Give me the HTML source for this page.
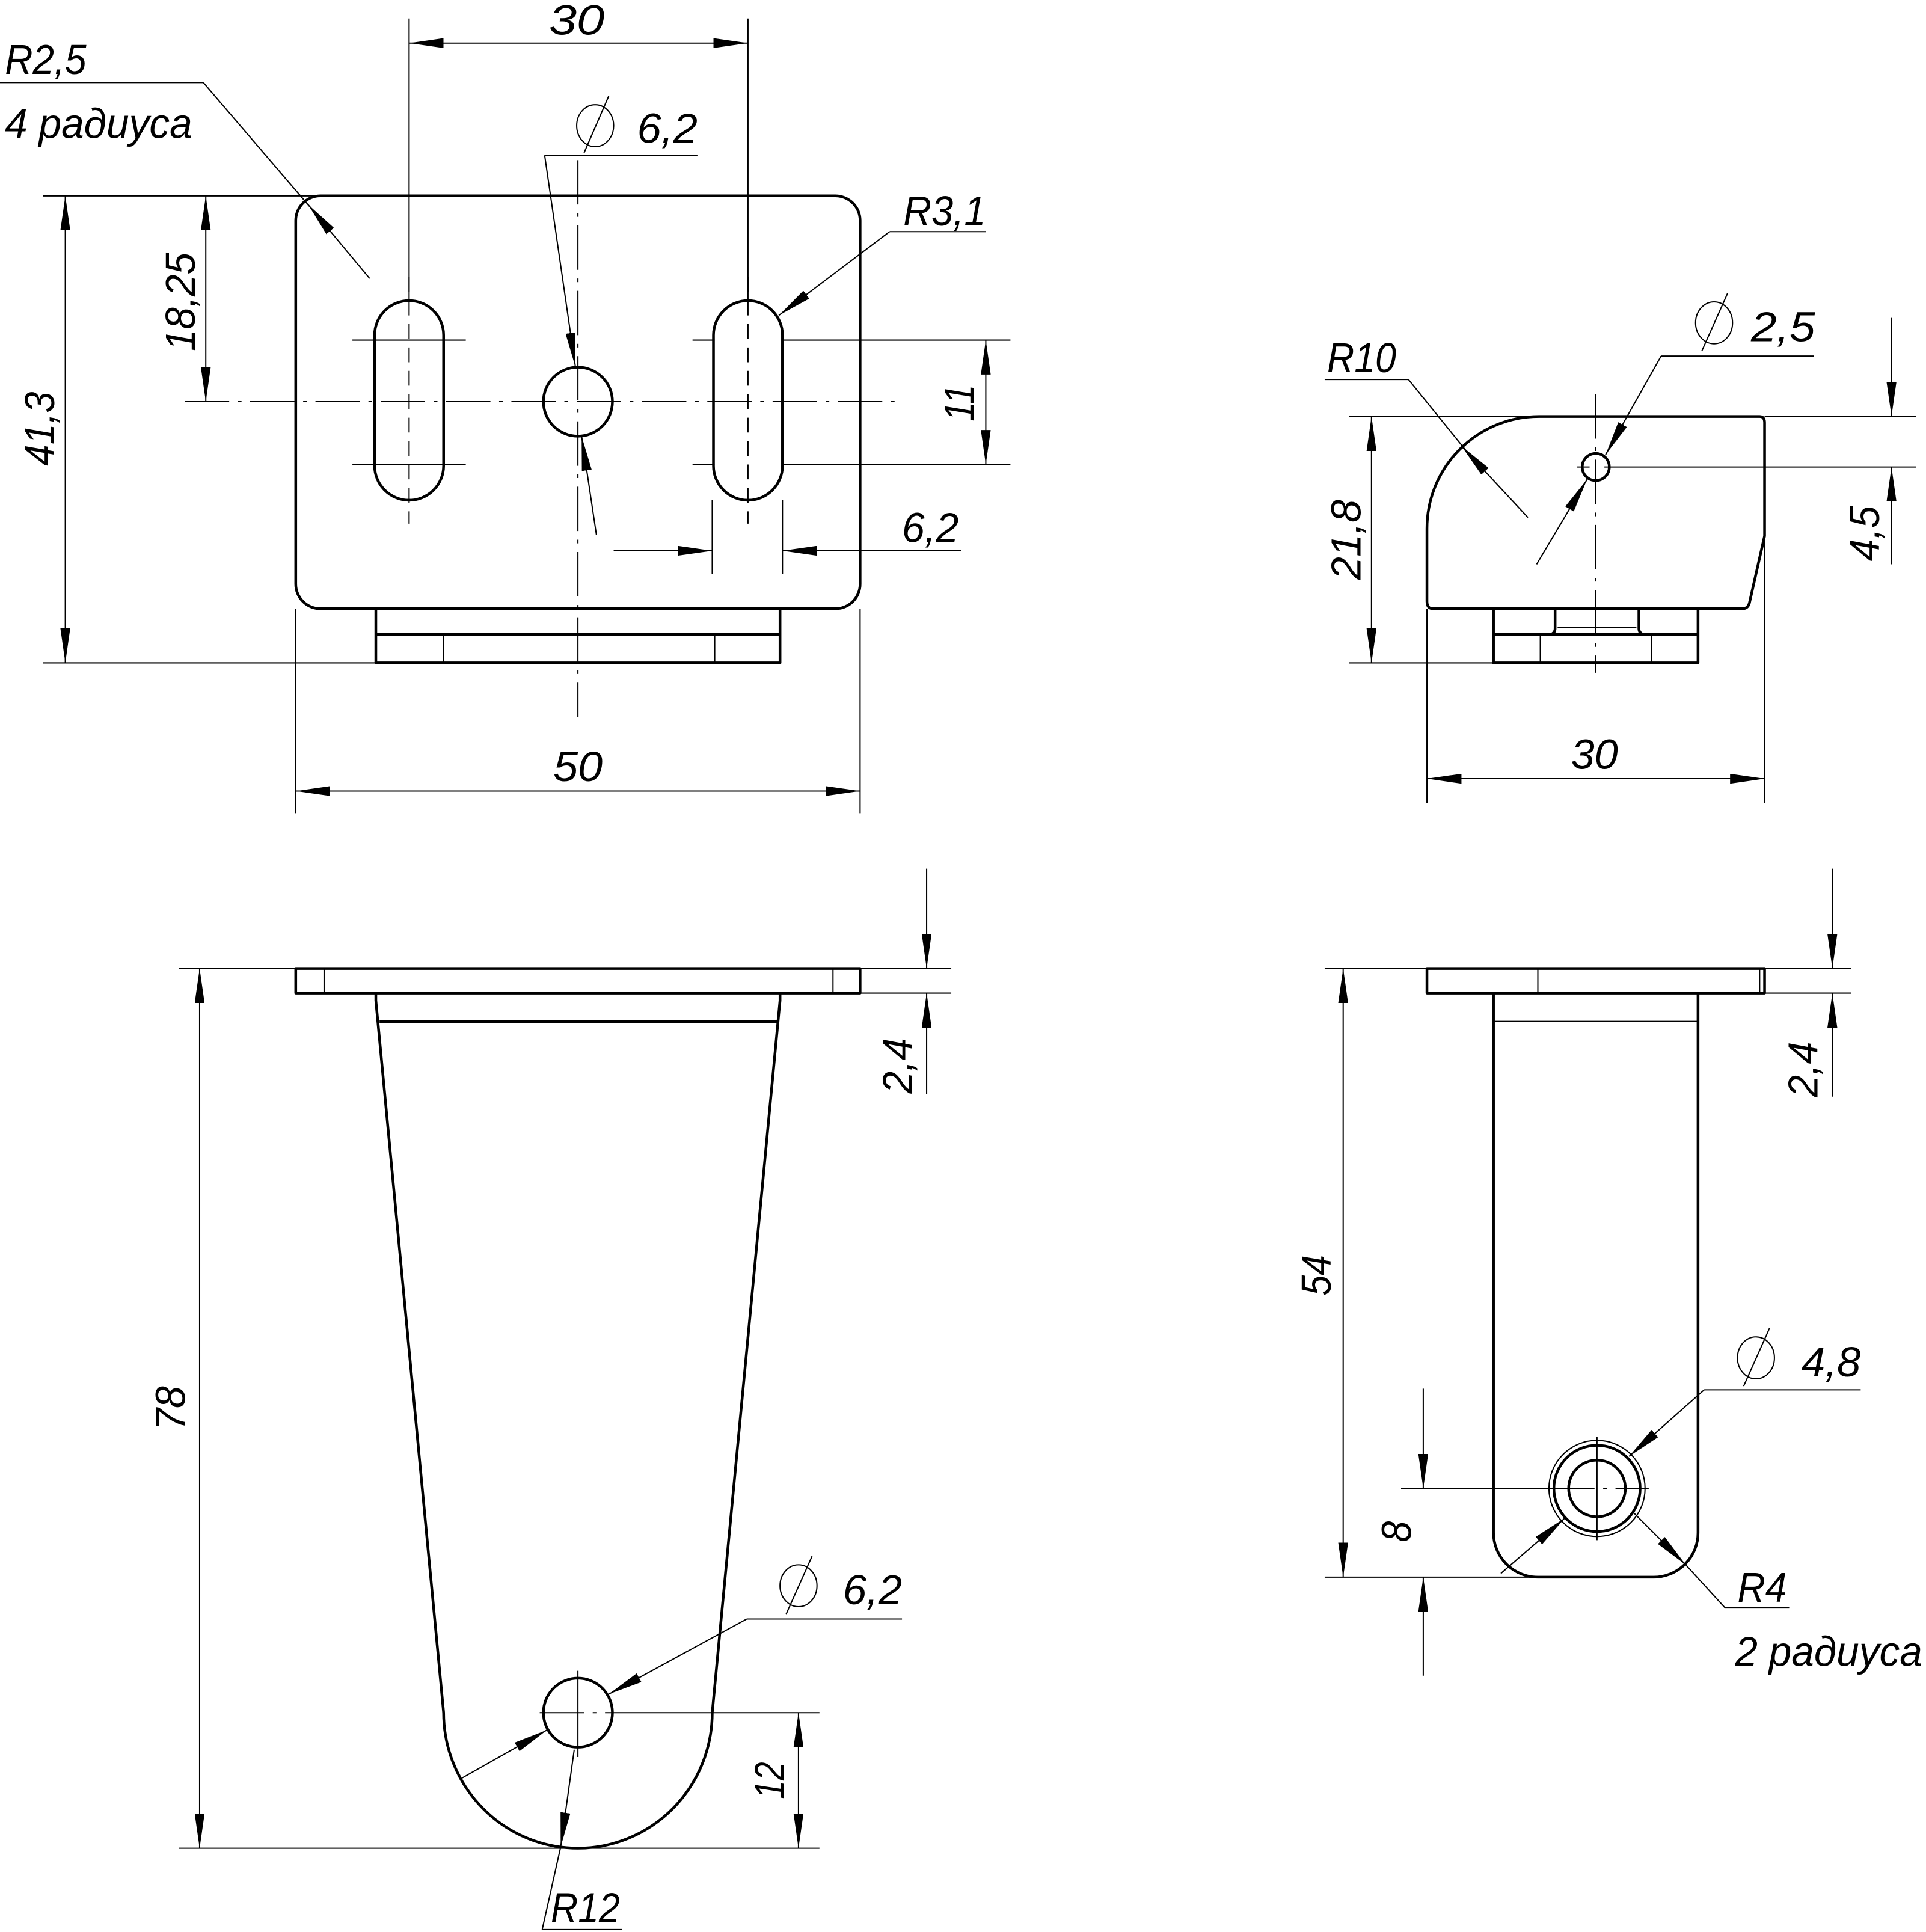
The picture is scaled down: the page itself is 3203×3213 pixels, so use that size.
<!DOCTYPE html>
<html><head><meta charset="utf-8">
<style>
html,body{margin:0;padding:0;background:#fff;}
svg{display:block;}
.k{stroke:#000;stroke-width:2.2;fill:none;stroke-linejoin:round;}
.n{stroke:#000;stroke-width:1;fill:none;}
.c{stroke:#000;stroke-width:1;fill:none;stroke-dasharray:36 7 3 7;}
.d{stroke:#000;stroke-width:1;fill:none;stroke-dasharray:12 7;}
text{font-family:"Liberation Sans",sans-serif;font-style:italic;font-size:34px;fill:#000;}
</style></head><body>
<svg width="3203" height="3213" viewBox="0 0 1563 1568" preserveAspectRatio="none" xmlns="http://www.w3.org/2000/svg">
<defs>
<marker id="a" viewBox="0 0 28 8" refX="28" refY="4" markerWidth="28" markerHeight="8" markerUnits="userSpaceOnUse" orient="auto-start-reverse">
<path d="M0,0 L28,4 L0,8 z" fill="#000"/></marker>
</defs>

<!-- ========== TOP LEFT VIEW ========== -->
<rect class="k" x="240" y="159" width="458" height="335" rx="20"/>
<path class="k" d="M305,494 V538 H633 V494"/>
<line class="k" x1="305" y1="515" x2="633" y2="515"/>
<line class="n" x1="360" y1="515" x2="360" y2="538"/>
<line class="n" x1="580" y1="515" x2="580" y2="538"/>
<rect class="k" x="304" y="244" width="56" height="162" rx="28"/>
<rect class="k" x="579" y="244" width="56" height="162" rx="28"/>
<circle class="k" cx="469" cy="326" r="28"/>
<line class="c" x1="150" y1="326" x2="730" y2="326"/>
<line class="c" x1="469" y1="130" x2="469" y2="582"/>
<line class="d" x1="332" y1="225" x2="332" y2="425"/>
<line class="d" x1="607" y1="225" x2="607" y2="425"/>
<line class="n" x1="286" y1="276" x2="378" y2="276"/>
<line class="n" x1="286" y1="377" x2="378" y2="377"/>
<line class="n" x1="562" y1="276" x2="580" y2="276"/>
<line class="n" x1="562" y1="377" x2="580" y2="377"/>
<!-- dim 30 -->
<line class="n" x1="332" y1="15" x2="332" y2="244"/>
<line class="n" x1="607" y1="15" x2="607" y2="244"/>
<line class="n" x1="332" y1="35" x2="607" y2="35" marker-start="url(#a)" marker-end="url(#a)"/>
<text x="468" y="28" text-anchor="middle" textLength="45" lengthAdjust="spacingAndGlyphs">30</text>
<!-- dim 41.3 -->
<line class="n" x1="35" y1="159" x2="255" y2="159"/>
<line class="n" x1="35" y1="538" x2="305" y2="538"/>
<line class="n" x1="53" y1="159" x2="53" y2="538" marker-start="url(#a)" marker-end="url(#a)"/>
<text x="44" y="348" text-anchor="middle" transform="rotate(-90 44 348)" textLength="60" lengthAdjust="spacingAndGlyphs">41,3</text>
<!-- dim 18.25 -->
<line class="n" x1="167" y1="159" x2="167" y2="326" marker-start="url(#a)" marker-end="url(#a)"/>
<text x="158" y="245" text-anchor="middle" transform="rotate(-90 158 245)" textLength="80" lengthAdjust="spacingAndGlyphs">18,25</text>
<!-- dim 11 -->
<line class="n" x1="635" y1="276" x2="820" y2="276"/>
<line class="n" x1="635" y1="377" x2="820" y2="377"/>
<line class="n" x1="800" y1="276" x2="800" y2="377" marker-start="url(#a)" marker-end="url(#a)"/>
<text x="790" y="327" text-anchor="middle" transform="rotate(-90 790 327)" textLength="30" lengthAdjust="spacingAndGlyphs">11</text>
<!-- dim 6.2 slot -->
<line class="n" x1="578" y1="406" x2="578" y2="466"/>
<line class="n" x1="635" y1="406" x2="635" y2="466"/>
<line class="n" x1="498" y1="447" x2="578" y2="447" marker-end="url(#a)"/>
<line class="n" x1="780" y1="447" x2="635" y2="447" marker-end="url(#a)"/>
<text x="732" y="440" textLength="46" lengthAdjust="spacingAndGlyphs">6,2</text>
<!-- dim 50 -->
<line class="n" x1="240" y1="494" x2="240" y2="660"/>
<line class="n" x1="698" y1="494" x2="698" y2="660"/>
<line class="n" x1="240" y1="642" x2="698" y2="642" marker-start="url(#a)" marker-end="url(#a)"/>
<text x="469" y="634" text-anchor="middle" textLength="40" lengthAdjust="spacingAndGlyphs">50</text>
<!-- R2.5 -->
<text x="4" y="60" textLength="66" lengthAdjust="spacingAndGlyphs">R2,5</text>
<line class="n" x1="0" y1="67" x2="165" y2="67"/>
<line class="n" x1="300" y1="226" x2="250" y2="166" marker-end="url(#a)"/>
<line class="n" x1="165" y1="67" x2="255" y2="172"/>
<text x="4" y="112" textLength="152" lengthAdjust="spacingAndGlyphs">4 радиуса</text>
<!-- Ø6.2 top -->
<ellipse class="n" cx="483" cy="102" rx="15" ry="17"/><line class="n" x1="474" y1="124" x2="494" y2="78"/>
<text x="517" y="116" textLength="49" lengthAdjust="spacingAndGlyphs">6,2</text>
<line class="n" x1="442" y1="126" x2="566" y2="126"/>
<line class="n" x1="442" y1="126" x2="467" y2="298" marker-end="url(#a)"/>
<line class="n" x1="484" y1="434" x2="472" y2="354" marker-end="url(#a)"/>
<!-- R3.1 -->
<text x="733" y="183" textLength="67" lengthAdjust="spacingAndGlyphs">R3,1</text>
<line class="n" x1="722" y1="188" x2="800" y2="188"/>
<line class="n" x1="722" y1="188" x2="632" y2="256" marker-end="url(#a)"/>

<!-- ========== TOP RIGHT VIEW ========== -->
<path class="k" d="M1158,488 V429 A91,91 0 0 1 1249,338 H1428 Q1432,338 1432,343 V435 L1420,488 Q1419,494 1414,494 H1163 Q1158,494 1158,488 Z"/>
<path class="k" d="M1212,494 V538 H1378 V494"/>
<line class="k" x1="1212" y1="515" x2="1378" y2="515"/>
<line class="n" x1="1250" y1="515" x2="1250" y2="538"/>
<line class="n" x1="1340" y1="515" x2="1340" y2="538"/>
<path class="k" d="M1262,494 V510 Q1262,514 1258,515 M1330,494 V510 Q1330,514 1334,515"/>
<line class="n" x1="1264" y1="509" x2="1328" y2="509"/>
<line class="c" x1="1295" y1="320" x2="1295" y2="546"/>
<circle class="k" cx="1295" cy="379" r="11"/>
<line class="n" x1="1280" y1="379" x2="1290" y2="379"/>
<line class="n" x1="1302" y1="379" x2="1555" y2="379"/>
<line class="n" x1="1432" y1="338" x2="1555" y2="338"/>
<!-- dim 4.5 -->
<line class="n" x1="1535" y1="258" x2="1535" y2="338" marker-end="url(#a)"/>
<line class="n" x1="1535" y1="458" x2="1535" y2="379" marker-end="url(#a)"/>
<text x="1525" y="433" text-anchor="middle" transform="rotate(-90 1525 433)" textLength="45" lengthAdjust="spacingAndGlyphs">4,5</text>
<!-- dim 21.8 -->
<line class="n" x1="1095" y1="338" x2="1249" y2="338"/>
<line class="n" x1="1095" y1="538" x2="1212" y2="538"/>
<line class="n" x1="1113" y1="338" x2="1113" y2="538" marker-start="url(#a)" marker-end="url(#a)"/>
<text x="1104" y="438" text-anchor="middle" transform="rotate(-90 1104 438)" textLength="65" lengthAdjust="spacingAndGlyphs">21,8</text>
<!-- dim 30 -->
<line class="n" x1="1158" y1="494" x2="1158" y2="652"/>
<line class="n" x1="1432" y1="435" x2="1432" y2="652"/>
<line class="n" x1="1158" y1="632" x2="1432" y2="632" marker-start="url(#a)" marker-end="url(#a)"/>
<text x="1294" y="624" text-anchor="middle" textLength="38" lengthAdjust="spacingAndGlyphs">30</text>
<!-- R10 -->
<text x="1077" y="302" textLength="56" lengthAdjust="spacingAndGlyphs">R10</text>
<line class="n" x1="1075" y1="308" x2="1143" y2="308"/>
<line class="n" x1="1143" y1="308" x2="1190" y2="366"/>
<line class="n" x1="1240" y1="420" x2="1186" y2="362" marker-end="url(#a)"/>
<!-- Ø2.5 -->
<ellipse class="n" cx="1391" cy="262" rx="15" ry="17"/><line class="n" x1="1381" y1="285" x2="1402" y2="238"/>
<text x="1421" y="277" textLength="52" lengthAdjust="spacingAndGlyphs">2,5</text>
<line class="n" x1="1348" y1="289" x2="1472" y2="289"/>
<line class="n" x1="1348" y1="289" x2="1303" y2="369" marker-end="url(#a)"/>
<line class="n" x1="1247" y1="458" x2="1288" y2="389" marker-end="url(#a)"/>

<!-- ========== BOTTOM LEFT VIEW ========== -->
<rect class="k" x="240" y="786" width="458" height="20"/>
<line class="n" x1="263" y1="786" x2="263" y2="806"/>
<line class="n" x1="676" y1="786" x2="676" y2="806"/>
<path class="k" d="M305,806 L305,812 L360,1390 A109,110 0 0 0 578,1390 L633,812 L633,806"/>
<line class="k" x1="308" y1="829" x2="631" y2="829"/>
<circle class="k" cx="469" cy="1390" r="28"/>
<line class="c" x1="438" y1="1390" x2="500" y2="1390"/>
<line class="n" x1="469" y1="1356" x2="469" y2="1426"/>
<line class="n" x1="500" y1="1390" x2="665" y2="1390"/>
<!-- dim 78 -->
<line class="n" x1="145" y1="786" x2="240" y2="786"/>
<line class="n" x1="145" y1="1500" x2="665" y2="1500"/>
<line class="n" x1="162" y1="786" x2="162" y2="1500" marker-start="url(#a)" marker-end="url(#a)"/>
<text x="150" y="1143" text-anchor="middle" transform="rotate(-90 150 1143)" textLength="36" lengthAdjust="spacingAndGlyphs">78</text>
<!-- dim 2.4 -->
<line class="n" x1="698" y1="786" x2="772" y2="786"/>
<line class="n" x1="698" y1="806" x2="772" y2="806"/>
<line class="n" x1="752" y1="705" x2="752" y2="786" marker-end="url(#a)"/>
<line class="n" x1="752" y1="888" x2="752" y2="806" marker-end="url(#a)"/>
<text x="740" y="865" text-anchor="middle" transform="rotate(-90 740 865)" textLength="45" lengthAdjust="spacingAndGlyphs">2,4</text>
<!-- dim 12 -->
<line class="n" x1="648" y1="1390" x2="648" y2="1500" marker-start="url(#a)" marker-end="url(#a)"/>
<text x="636" y="1445" text-anchor="middle" transform="rotate(-90 636 1445)" textLength="30" lengthAdjust="spacingAndGlyphs">12</text>
<!-- Ø6.2 -->
<ellipse class="n" cx="648" cy="1287" rx="15" ry="17"/><line class="n" x1="638" y1="1310" x2="659" y2="1263"/>
<text x="684" y="1302" textLength="48" lengthAdjust="spacingAndGlyphs">6,2</text>
<line class="n" x1="606" y1="1314" x2="732" y2="1314"/>
<line class="n" x1="606" y1="1314" x2="494" y2="1375" marker-end="url(#a)"/>
<line class="n" x1="375" y1="1443" x2="444" y2="1404" marker-end="url(#a)"/>
<!-- R12 -->
<line class="n" x1="466" y1="1420" x2="455" y2="1499" marker-end="url(#a)"/>
<line class="n" x1="455" y1="1499" x2="440" y2="1566"/>
<line class="n" x1="440" y1="1566" x2="505" y2="1566"/>
<text x="447" y="1560" textLength="56" lengthAdjust="spacingAndGlyphs">R12</text>

<!-- ========== BOTTOM RIGHT VIEW ========== -->
<rect class="k" x="1158" y="786" width="274" height="20"/>
<line class="n" x1="1248" y1="786" x2="1248" y2="806"/>
<line class="n" x1="1428" y1="786" x2="1428" y2="806"/>
<path class="k" d="M1212,806 V1244 A36,36 0 0 0 1248,1280 H1342 A36,36 0 0 0 1378,1244 V806"/>
<line class="n" x1="1212" y1="829" x2="1378" y2="829"/>
<circle class="n" cx="1296" cy="1208" r="39"/>
<circle class="k" cx="1296" cy="1208" r="35"/>
<circle class="k" cx="1296" cy="1208" r="23"/>
<line class="c" x1="1258" y1="1208" x2="1338" y2="1208"/>
<line class="n" x1="1296" y1="1166" x2="1296" y2="1250"/>
<line class="n" x1="1137" y1="1208" x2="1258" y2="1208"/>
<!-- dim 54 -->
<line class="n" x1="1075" y1="786" x2="1158" y2="786"/>
<line class="n" x1="1075" y1="1280" x2="1248" y2="1280"/>
<line class="n" x1="1090" y1="786" x2="1090" y2="1280" marker-start="url(#a)" marker-end="url(#a)"/>
<text x="1080" y="1035" text-anchor="middle" transform="rotate(-90 1080 1035)" textLength="33" lengthAdjust="spacingAndGlyphs">54</text>
<!-- dim 8 -->
<line class="n" x1="1155" y1="1127" x2="1155" y2="1208" marker-end="url(#a)"/>
<line class="n" x1="1155" y1="1360" x2="1155" y2="1280" marker-end="url(#a)"/>
<text x="1145" y="1243" text-anchor="middle" transform="rotate(-90 1145 1243)" textLength="17" lengthAdjust="spacingAndGlyphs">8</text>
<!-- dim 2.4 -->
<line class="n" x1="1432" y1="786" x2="1502" y2="786"/>
<line class="n" x1="1432" y1="806" x2="1502" y2="806"/>
<line class="n" x1="1487" y1="705" x2="1487" y2="786" marker-end="url(#a)"/>
<line class="n" x1="1487" y1="890" x2="1487" y2="806" marker-end="url(#a)"/>
<text x="1475" y="868" text-anchor="middle" transform="rotate(-90 1475 868)" textLength="45" lengthAdjust="spacingAndGlyphs">2,4</text>
<!-- Ø4.8 -->
<ellipse class="n" cx="1425" cy="1102" rx="15" ry="17"/><line class="n" x1="1415" y1="1125" x2="1436" y2="1078"/>
<text x="1462" y="1117" textLength="48" lengthAdjust="spacingAndGlyphs">4,8</text>
<line class="n" x1="1383" y1="1128" x2="1510" y2="1128"/>
<line class="n" x1="1383" y1="1128" x2="1322" y2="1182" marker-end="url(#a)"/>
<line class="n" x1="1218" y1="1277" x2="1270" y2="1232" marker-end="url(#a)"/>
<!-- R4 -->
<line class="n" x1="1326" y1="1228" x2="1368" y2="1270" marker-end="url(#a)"/>
<line class="n" x1="1368" y1="1270" x2="1400" y2="1305"/>
<line class="n" x1="1400" y1="1305" x2="1452" y2="1305"/>
<text x="1410" y="1300" textLength="40" lengthAdjust="spacingAndGlyphs">R4</text>
<text x="1408" y="1352" textLength="152" lengthAdjust="spacingAndGlyphs">2 радиуса</text>
</svg>
</body></html>
